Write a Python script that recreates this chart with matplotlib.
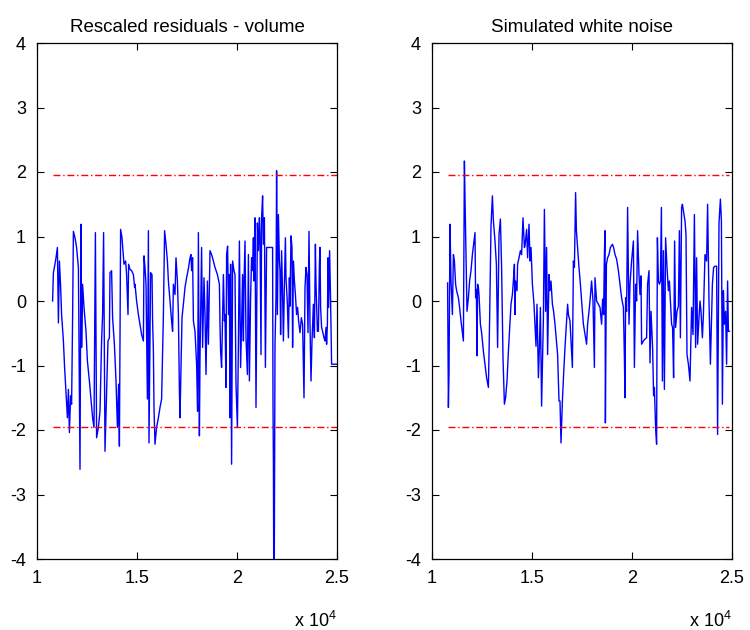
import matplotlib
matplotlib.use('Agg')
import matplotlib.pyplot as plt

# values
left_x = [
    10780, 10820, 10880, 10950, 11020, 11070, 11120, 11180, 11230, 11320,
    11380, 11450, 11520, 11570, 11620, 11680, 11730, 11780, 11820, 11900,
    11980, 12070, 12150, 12200, 12230, 12280, 12350, 12450, 12520, 12620,
    12700, 12780, 12850, 12920, 12950, 12980, 13070, 13150, 13230, 13280,
    13330, 13370, 13400, 13480, 13550, 13620, 13650, 13730, 13780, 13870,
    13950, 14020, 14080, 14120, 14180, 14250, 14350, 14430, 14480, 14550,
    14580, 14650, 14730, 14820, 14880,
    14900, 14980, 15070, 15150, 15230, 15320, 15350, 15400, 15450, 15520,
    15570, 15600, 15680, 15750, 15780, 15820, 15850, 15900, 15980, 16070,
    16150, 16230, 16320, 16380, 16450, 16520, 16570, 16650, 16730, 16780,
    16820, 16900, 16950, 17020, 17070, 17120, 17150, 17200, 17250, 17320,
    17400, 17480, 17580, 17650, 17700, 17730, 17780, 17820, 17900, 17980,
    18030, 18070, 18120, 18150, 18230, 18280, 18350, 18400, 18450, 18520,
    18570, 18620, 18650, 18730, 18820, 18900, 19020, 19120, 19150, 19180,
    19230, 19280, 19320, 19370, 19400, 19450, 19480, 19530, 19580, 19620,
    19650, 19680, 19730, 19780, 19850,
    19900, 19950, 20020, 20070, 20120, 20180, 20230, 20280, 20320, 20350,
    20400, 20450, 20520, 20570, 20620, 20680, 20730, 20780, 20820, 20850,
    20900, 20950, 21020, 21070, 21120, 21150, 21200, 21230, 21280, 21320,
    21370, 21420, 21480, 21780, 21800, 21820, 21850, 21900, 21950, 21980,
    22020, 22070, 22120, 22150, 22180, 22230, 22280, 22320, 22370, 22420,
    22450, 22520, 22570, 22620, 22650, 22700, 22750, 22780, 22820, 22870,
    22920, 22980, 23030, 23080, 23150, 23220, 23280, 23350, 23400, 23450,
    23500, 23550, 23600, 23650, 23700, 23750, 23820, 23870, 23920, 23950,
    24020, 24070, 24120, 24150, 24180, 24230, 24280, 24350, 24400, 24450,
    24480, 24520, 24550, 24580, 24630, 24680, 24730, 25000,
]
left_y = [
    0.00, 0.44, 0.54, 0.67, 0.83, -0.34, 0.62, 0.23, -0.21, -0.62,
    -1.03, -1.42, -1.81, -1.37, -2.04, -1.47, -1.60, -0.26, 1.08, 0.98,
    0.83, 0.52, -2.61, 1.19, -0.72, 0.26, -0.10, -0.47, -0.93, -1.24,
    -1.52, -1.81, -1.96, 1.06, -0.57, -2.12, -1.96, -1.71, -0.62, -0.21,
    1.06, -0.78, -2.33, -1.45, -0.62, -0.57, 0.44, 0.47, -0.26, -0.67,
    -1.24, -1.96, -1.29, -2.25, 1.11, 0.98, 0.57, 0.62, 0.41, -0.21,
    0.57, 0.49, 0.47, 0.41, 0.21,
    0.26, 0.00, -0.21, -0.36, -0.52, -0.62, 0.70, 0.52, 0.26, -1.52,
    1.09, -2.20, 0.44, 0.41, -0.31, -0.78, -1.65, -2.22, -1.96, -1.81,
    -1.65, -1.52, -0.21, 1.09, 0.88, 0.62, 0.31, 0.00, -0.31, -0.47,
    0.26, 0.10, 0.67, 0.31, -0.21, -1.40, -1.81, -1.06, -0.26, -0.05,
    0.21, 0.36, 0.52, 0.67, 0.72, 0.47, 0.67, -0.31, -0.47, -0.98,
    -1.71, 1.06, -2.09, -0.88, 0.83, -0.72, 0.36, -0.21, -1.14, 0.31,
    -0.67, 0.28, 0.78, 0.72, 0.62, 0.52, 0.41, 0.26, -0.36, -0.78,
    -1.03, -0.21, 0.41, -0.31, -0.21, -1.34, 0.72, 0.85, -0.21, 0.41,
    -1.81, 0.57, -2.53, 0.62, 0.47,
    0.41, -1.29, -1.96, -0.67, 0.93, -1.03, -0.36, 0.41, -0.62, 0.26,
    0.93, -0.57, -1.14, 0.72, -1.24, 0.05, 0.67, 0.47, 0.98, 0.31,
    1.29, -1.65, 1.21, 0.78, 1.29, 1.03, -0.83, 1.29, 1.63, 0.88,
    1.29, -1.03, 0.83, 0.83, -1.60, -2.48, -5.50, -0.67, 0.05, 2.02,
    -0.21, 1.34, 0.62, 0.47, -0.52, 0.78, 0.10, -0.62, 0.26, 0.98,
    0.36, -0.05, -0.57, 0.36, -0.08, 1.01, 0.83, -0.72, 0.62, 0.31,
    0.10, -0.21, -0.10, -0.31, -0.49, -0.26, -0.36, -1.50, 0.21, 0.52,
    0.41, -0.49, 1.08, -0.36, -1.24, -0.62, -0.05, -0.57, 0.88, 0.26,
    -0.47, -0.47, 0.57, 0.83, -0.10, -0.41, -0.47, -0.57, -0.62, -0.41,
    -0.67, -0.36, 0.67, -0.10, 0.78, 0.00, -0.98, -0.98,
]

right_x = [
    10780, 10820, 10850, 10900, 10950, 11020, 11070, 11120, 11180, 11230,
    11320, 11380, 11450, 11520, 11570, 11620, 11650, 11720, 11750, 11820,
    11880, 11950, 12020, 12080, 12150, 12180, 12220, 12250, 12280, 12320,
    12350, 12420, 12480, 12570, 12650, 12730, 12820, 12880, 12950, 13020,
    13070, 13150, 13220, 13280, 13350, 13420, 13480, 13550, 13620, 13680,
    13750, 13820, 13880, 13950, 14020, 14080, 14120, 14150, 14180, 14250,
    14280, 14350, 14420, 14480, 14550, 14620,
    14650, 14730, 14780, 14850, 14900, 14950, 15020, 15100, 15150, 15200,
    15250, 15320, 15370, 15420, 15480, 15570, 15620, 15680, 15730, 15780,
    15850, 15900, 15950, 16020, 16080, 16150, 16220, 16280, 16350, 16400,
    16450, 16520, 16580, 16650, 16730, 16780, 16820, 16900, 16950, 17020,
    17070, 17120, 17180, 17220, 17280, 17350, 17420, 17480, 17570, 17650,
    17730, 17780, 17850, 17900, 17980, 18050, 18120, 18150, 18230, 18320,
    18400, 18480, 18530, 18580, 18620, 18650, 18670, 18720, 18780, 18850,
    18920, 19020, 19080, 19150, 19230, 19320, 19400, 19480, 19570, 19620,
    19650, 19680, 19730, 19780, 19850,
    19900, 19980, 20070, 20120, 20180, 20230, 20280, 20350, 20400, 20450,
    20480, 20570, 20650, 20730, 20780, 20850, 20900, 20950, 20980, 21030,
    21080, 21120, 21180, 21230, 21270, 21320, 21370, 21420, 21470, 21520,
    21570, 21620, 21680, 21750, 21820, 21870, 21920, 21980, 22030, 22080,
    22130, 22180, 22250, 22320, 22370, 22420, 22480, 22520, 22570, 22650,
    22700, 22750, 22820, 22900, 22980, 23050, 23120, 23180, 23230, 23280,
    23350, 23400, 23450, 23520, 23570, 23650, 23730, 23780, 23850, 23920,
    24020, 24080, 24150, 24230, 24280, 24350, 24420, 24470, 24520, 24570,
    24620, 24680, 24730, 24780, 24820, 24870,
]
right_y = [
    0.28, -1.65, -1.14, 1.19, 0.31, -0.21, 0.72, 0.62, 0.26, 0.16,
    0.05, -0.10, -0.31, -0.49, -0.62, 2.17, 1.60, 0.41, -0.16, 0.05,
    0.31, 0.47, 0.72, 0.88, 1.06, 0.05, 0.18, -0.85, 0.26, 0.21,
    0.10, -0.36, -0.49, -0.78, -0.98, -1.19, -1.34, -0.31, 1.16, 1.63,
    1.24, 0.93, 0.57, -0.72, 1.03, 1.27, 0.52, -0.88, -1.60, -1.50,
    -1.24, -0.78, -0.44, -0.05, 0.10, 0.36, 0.57, -0.21, 0.31, 0.16,
    0.57, 0.67, 0.78, 0.72, 1.29, 0.83,
    0.85, 1.11, 0.67, 1.19, 0.62, 0.83, 0.26, -0.05, -0.36, -0.70,
    -0.05, -1.19, -0.72, -0.10, -1.63, -0.26, 1.42, -0.16, 0.83, -0.83,
    0.41, 0.16, 0.31, -0.05, -0.16, -0.36, -0.62, -0.83, -1.55, -1.55,
    -2.20, -1.55, -1.14, -0.72, -0.31, -0.05, -0.21, -0.31, -0.62, -1.03,
    0.62, 0.52, 1.68, 1.09, 0.83, 0.52, 0.26, 0.00, -0.36, -0.52,
    -0.67, -0.36, -0.16, 0.00, 0.31, 0.00, -1.03, 0.36, 0.00, -0.05,
    -0.10, -0.36, 0.03, -0.21, 0.72, 1.09, -1.89, 0.57, 0.67, 0.72,
    0.83, 0.88, 0.83, 0.72, 0.65, 0.47, 0.26, 0.05, -0.10, -0.88,
    -1.50, 0.05, -0.16, 1.45, -0.36,
    0.26, 0.62, 0.93, -1.03, 0.26, 0.00, 1.09, 0.41, 0.10, 0.39,
    -0.67, -0.62, -0.59, -0.57, 0.26, 0.47, -0.96, -0.16, -0.36, -0.72,
    -1.47, -1.34, -1.96, -2.22, 0.98, 0.31, 0.26, 0.31, 1.45, -1.24,
    0.78, -1.37, 0.98, 0.52, 0.16, 0.31, 0.00, -0.36, -0.41, -1.19,
    0.93, -0.41, -0.16, -0.08, 1.09, -0.57, 1.45, 1.50, 1.40, 1.24,
    1.03, -0.83, -0.98, -1.24, -0.10, -0.52, 1.34, -0.72, 0.67, -0.67,
    -0.26, 0.00, -0.16, -0.57, -0.21, 0.72, 0.62, 1.50, 0.00, -0.98,
    0.26, 0.52, 0.54, 0.54, -2.07, 1.21, 1.58, 1.24, -1.60, 0.16,
    -0.36, -0.16, -0.98, 0.31, -0.47, -0.47,
]

band = 1.96
titles = ['Rescaled residuals - volume', 'Simulated white noise']
x_ticks = [10000, 15000, 20000, 25000]
x_tick_labels = ['1', '1.5', '2', '2.5']
y_ticks = [-4, -3, -2, -1, 0, 1, 2, 3, 4]

plt.rcParams['font.family'] = ['Liberation Sans', 'DejaVu Sans']
plt.rcParams['mathtext.default'] = 'regular'
plt.rcParams['axes.unicode_minus'] = False

fig = plt.figure(figsize=(7.5, 6.3), dpi=100)
ax1 = fig.add_axes([37 / 750, 71 / 630, 300 / 750, 516 / 630])
ax2 = fig.add_axes([432 / 750, 71 / 630, 300 / 750, 516 / 630])

for ax, xs, ys, title in [(ax1, left_x, left_y, titles[0]),
                          (ax2, right_x, right_y, titles[1])]:
    ax.plot(xs, ys, color='#0000ff', lw=1.0)
    for b in (band, -band):
        ax.plot([xs[0], xs[-1]], [b, b], color='#ff0000', lw=1.0,
                ls=(0, (5, 2, 1, 2)))
    ax.set_xlim(10000, 25000)
    ax.set_ylim(-4, 4)
    ax.set_xticks(x_ticks)
    ax.set_xticklabels(x_tick_labels)
    ax.set_yticks(y_ticks)
    ax.tick_params(direction='in', top=True, right=True, length=5,
                   width=0.8, labelsize=13, pad=8)
    for s in ax.spines.values():
        s.set_linewidth(0.9)
    ax.set_title(title, fontsize=13.5, pad=8)
    ax.text(1.0, -0.132, 'x 10$^{4}$', transform=ax.transAxes,
            ha='right', va='baseline', fontsize=13)

fig.savefig('out.png', dpi=100)
